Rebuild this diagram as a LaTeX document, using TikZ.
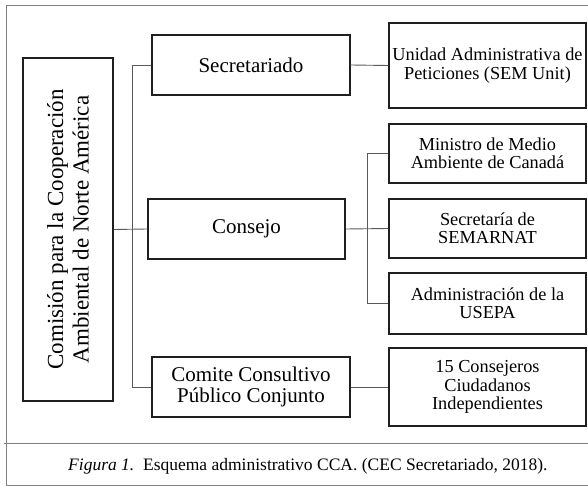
\documentclass[tikz,border=0pt]{standalone}
\usepackage{fontspec}
\setmainfont{Liberation Serif}
\begin{document}
\begin{tikzpicture}[x=1pt,y=-1pt,
  box/.style={draw=black!88, line width=1.4pt, inner sep=2pt, align=center, text=black},
  midbox/.style={box, font=\fontsize{21}{21}\selectfont, minimum width=197pt, minimum height=60pt},
  rbox/.style={box, font=\fontsize{18.3}{18.4}\selectfont, minimum width=197pt},
  link/.style={draw=black!65, line width=0.9pt},
  frame/.style={draw=black!50, line width=1pt}]
\useasboundingbox (0,0) rectangle (588,486);
% outer frame
\draw[frame] (588,5.5) -- (6.5,5.5) -- (6.5,485) -- (588,485);
\draw[frame] (4,443) -- (588,443);
% nodes
\node[box, rotate=90, minimum width=343pt, minimum height=90pt,
      font=\fontsize{23}{25.5}\selectfont] (cca) at (68,229.5)
      {Comisión para la Cooperación\\Ambiental de Norte América};
\node[midbox, minimum width=198pt] (sec) at (251,65) {Secretariado};
\node[midbox] (con) at (246.5,229) {Consejo};
\node[midbox, minimum width=198pt] (com) at (251,387) {Comite Consultivo\\Público Conjunto};
\node[rbox, minimum height=85pt] (uni) at (487.5,65.5) {Unidad Administrativa de\\Peticiones (SEM Unit)};
\node[rbox, minimum height=59pt] (min) at (487.5,153.5) {Ministro de Medio\\Ambiente de Canadá};
\node[rbox, minimum height=59pt] (sem) at (487.5,228.5) {Secretaría de\\SEMARNAT};
\node[rbox, minimum height=61pt] (adm) at (487.5,303.5) {Administración de la\\USEPA};
\node[rbox, minimum height=78pt] (ind) at (487.5,387) {15 Consejeros\\Ciudadanos\\Independientes};
% connectors
\draw[link] (cca.south) -- (con.west);
\draw[link] (sec.west) -- ++(-19,0) |- (com.west);
\draw[link] (sec.east) -- (uni.west);
\draw[link] (con.east) -- (sem.west);
\draw[link] (min.west) -- ++(-21,0) |- (adm.west);
\draw[link] (com.east) -- (ind.west);
% caption
\node[anchor=base west, inner sep=0pt, font=\fontsize{17.5}{18}\selectfont, text=black] (cap) at (68,470)
  {\textit{Figura 1.}\ \ Esquema administrativo CCA. (CEC Secretariado, 2018).};
\end{tikzpicture}
\end{document}
